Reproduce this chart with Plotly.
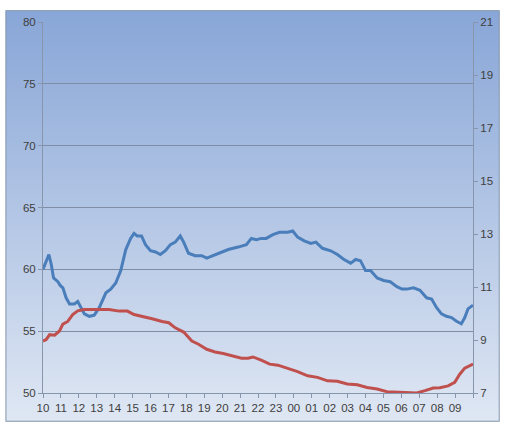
import base64
import plotly.graph_objects as go

# ---- data (hours since 10:00) ----
hum_t = [0.00, 0.18, 0.33, 0.46, 0.59, 0.83, 0.96, 1.11, 1.29, 1.48, 1.75, 1.94, 2.12, 2.31, 2.58, 2.86,
         3.14, 3.51, 3.78, 4.06, 4.34, 4.62, 4.89, 5.08, 5.26, 5.50, 5.72, 6.00, 6.28, 6.55, 6.83, 7.11,
         7.38, 7.66, 7.85, 8.12, 8.49, 8.86, 9.14, 9.51, 9.88, 10.34, 10.89, 11.35, 11.63, 11.91, 12.18,
         12.46, 12.83, 13.20, 13.66, 13.94, 14.21, 14.58, 14.95, 15.23, 15.60, 16.06, 16.43, 16.80, 17.17,
         17.45, 17.72, 18.00, 18.28, 18.65, 19.01, 19.38, 19.75, 20.03, 20.31, 20.68, 21.04, 21.41, 21.69,
         21.97, 22.24, 22.52, 22.80, 23.08, 23.35, 23.54, 23.72, 24.00]
hum_v = [60.0, 60.7, 61.2, 60.4, 59.3, 59.0, 58.7, 58.5, 57.7, 57.2, 57.2, 57.4, 56.9, 56.4, 56.2, 56.3,
         56.9, 58.1, 58.4, 58.9, 59.9, 61.6, 62.5, 62.9, 62.7, 62.7, 62.0, 61.5, 61.4, 61.2, 61.5, 62.0,
         62.2, 62.7, 62.2, 61.3, 61.1, 61.1, 60.9, 61.1, 61.3, 61.6, 61.8, 62.0, 62.5, 62.4, 62.5,
         62.5, 62.8, 63.0, 63.0, 63.1, 62.6, 62.3, 62.1, 62.2, 61.7, 61.5, 61.2, 60.8, 60.5,
         60.8, 60.7, 59.9, 59.9, 59.3, 59.1, 59.0, 58.6, 58.4, 58.4, 58.5, 58.3, 57.7, 57.6,
         56.9, 56.4, 56.2, 56.1, 55.8, 55.6, 56.1, 56.8, 57.1]

temp_t = [0.00, 0.18, 0.37, 0.65, 0.92, 1.11, 1.38, 1.66, 1.94, 2.31, 2.95, 3.69, 4.25, 4.71, 5.08, 5.54,
          6.09, 6.65, 7.02, 7.38, 7.85, 8.31, 8.68, 9.14, 9.60, 10.06, 10.52, 11.08, 11.45, 11.72, 12.18,
          12.65, 13.11, 13.66, 14.21, 14.77, 15.32, 15.88, 16.43, 16.98, 17.54, 18.09, 18.65, 19.20, 19.75,
          20.31, 20.86, 21.32, 21.78, 22.15, 22.61, 22.98, 23.26, 23.54, 23.82, 24.00]
temp_v = [8.96, 9.02, 9.20, 9.18, 9.34, 9.60, 9.70, 9.96, 10.10, 10.15, 10.15, 10.15, 10.09, 10.09, 9.96, 9.90,
          9.80, 9.70, 9.65, 9.46, 9.30, 8.96, 8.84, 8.65, 8.55, 8.49, 8.40, 8.31, 8.31, 8.36, 8.24,
          8.09, 8.05, 7.94, 7.81, 7.65, 7.59, 7.46, 7.44, 7.34, 7.31, 7.21, 7.15, 7.05, 7.03,
          7.00, 7.00, 7.09, 7.19, 7.20, 7.27, 7.40, 7.71, 7.94, 8.05, 8.09]

x_ticks = list(range(25))
x_labels = ["10", "11", "12", "13", "14", "15", "16", "17", "18", "19", "20", "21", "22", "23",
            "00", "01", "02", "03", "04", "05", "06", "07", "08", "09", ""]
left_ticks = [50, 55, 60, 65, 70, 75, 80]
right_ticks = [7, 9, 11, 13, 15, 17, 19, 21]

# ---- background gradient as an inline SVG ----
svg = ('<svg xmlns="http://www.w3.org/2000/svg" width="500" height="416" preserveAspectRatio="none">'
       '<defs><linearGradient id="g" x1="0" y1="0" x2="0" y2="1">'
       '<stop offset="0" stop-color="#88a6d7"/>'
       '<stop offset="0.5" stop-color="#b3c6e5"/>'
       '<stop offset="1" stop-color="#dfe7f3"/>'
       '</linearGradient></defs>'
       '<rect x="0" y="0" width="500" height="416" fill="url(#g)" stroke="#8796ad" stroke-width="2"/>'
       '</svg>')
src = "data:image/svg+xml;base64," + base64.b64encode(svg.encode()).decode()

W, H = 505, 426
L, R, T, B = 43, 27, 22, 29
pw, ph = W - L - R, H - T - B

fig = go.Figure()
fig.add_trace(go.Scatter(x=hum_t, y=hum_v, mode="lines", yaxis="y",
                         line=dict(color="#4a7ebb", width=3), showlegend=False))
fig.add_trace(go.Scatter(x=temp_t, y=temp_v, mode="lines", yaxis="y2",
                         line=dict(color="#c0504d", width=3), showlegend=False))

font = dict(family="Liberation Sans, Arial, sans-serif", size=11.5, color="#404040")
fig.update_layout(
    width=W, height=H,
    margin=dict(l=L, r=R, t=T, b=B),
    paper_bgcolor="white",
    plot_bgcolor="rgba(0,0,0,0)",
    font=font,
    images=[dict(source=src, xref="paper", yref="paper",
                 x=(5 - L) / pw, y=(H - B - 10) / ph,
                 sizex=(W - 5) / pw, sizey=(H - 10) / ph,
                 xanchor="left", yanchor="top", sizing="stretch", layer="below")],
    xaxis=dict(range=[0, 24], tickvals=x_ticks, ticktext=x_labels, ticks="outside",
               ticklen=4, tickcolor="#8796ad", showgrid=False, zeroline=False,
               showline=True, linecolor="#8796ad", linewidth=1, tickfont=font),
    yaxis=dict(range=[50, 80], tickvals=left_ticks, ticks="outside", ticklen=4,
               tickcolor="#8796ad", showgrid=True, gridcolor="#7f8ea6", gridwidth=1,
               zeroline=False, showline=True, linecolor="#8796ad", linewidth=1, tickfont=font),
    yaxis2=dict(range=[7, 21], tickvals=right_ticks, overlaying="y", side="right",
                ticks="outside", ticklen=4, tickcolor="#8796ad", showgrid=False,
                zeroline=False, showline=True, linecolor="#8796ad", linewidth=1, tickfont=font),
)

fig.write_html("out.html", config={"displayModeBar": False},
               post_script="document.body.style.margin='0';document.body.style.overflow='hidden';")
